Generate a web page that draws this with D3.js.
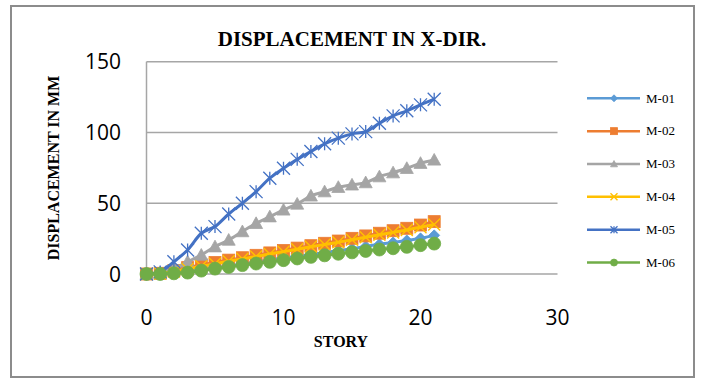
<!DOCTYPE html>
<html>
<head>
<meta charset="utf-8">
<script src="https://cdn.jsdelivr.net/npm/d3@7/dist/d3.min.js"></script>
<style>
  html, body { margin: 0; padding: 0; background: #fff; }
  svg { display: block; }
</style>
</head>
<body>
<svg id="chart" width="701" height="379"></svg>
<script>
// Storey-wise lateral displacement (mm) for six models
const stories = d3.range(0, 22);
const seriesNames = ["M-01", "M-02", "M-03", "M-04", "M-05", "M-06"];
const m01 = [0, 0, 0.8, 1.8, 3.1, 4.4, 5.8, 7.1, 8.5, 10, 11.3, 12.6, 13.9, 15.2, 16.5, 17.8, 19.5, 21, 22.3, 23.7, 25.2, 27.3];
const m02 = [0, 0.5, 2.5, 4.5, 6.4, 8.1, 9.8, 11.5, 13.2, 14.9, 16.6, 18.3, 20, 21.7, 23.3, 25.2, 26.9, 28.8, 30.6, 32.3, 34.6, 37];
const m03 = [0, 1, 4, 8.7, 13.4, 19.3, 24, 30, 35.8, 40.5, 45.3, 49.5, 55.2, 58.2, 61.3, 63, 64.6, 68.8, 71.6, 74.7, 78.3, 80.6];
const m04 = [0, 0.3, 1.8, 3.6, 5.5, 7.2, 9, 10.7, 12.4, 14.1, 15.8, 17.5, 19.2, 20.8, 22.4, 24.2, 25.9, 27.7, 29.4, 31.1, 33, 35];
const m05 = [0, 1.5, 8.7, 17, 28.8, 33.5, 42.4, 50, 58.2, 67.7, 74.7, 81, 86.5, 92, 96, 99, 100.6, 106.5, 111.7, 115.3, 119.5, 123.5];
const m06 = [0, 0, 0.5, 1, 2.4, 3.8, 5, 6.3, 7.4, 8.6, 9.8, 11, 12.1, 13.2, 14.3, 15.3, 16.3, 17.3, 18.2, 19.2, 20.4, 21.5];
const xTicks = [0, 10, 20, 30];
const yTicks = [0, 50, 100, 150];

const colors = ["#5B9BD5", "#ED7D31", "#A5A5A5", "#FFC000", "#4472C4", "#70AD47"];
const markers = ["diamond", "square", "triangle", "cross", "asterisk", "circle"];
const values = [m01, m02, m03, m04, m05, m06];

const svg = d3.select("#chart");
const serif = "'Liberation Serif', 'Times New Roman', serif";
const sans = "'Open Sans', 'Liberation Sans', sans-serif";

// chart frame
svg.append("rect")
  .attr("x", 11).attr("y", 6).attr("width", 683).attr("height", 371)
  .attr("fill", "#fff").attr("stroke", "#8c8c8c").attr("stroke-width", 2);

const x = d3.scaleLinear().domain([0, 30]).range([146.5, 557.5]);
const y = d3.scaleLinear().domain([0, 150]).range([274, 61.7]);

// horizontal gridlines
svg.append("g")
  .selectAll("line").data(yTicks).join("line")
  .attr("x1", x(0)).attr("x2", x(30))
  .attr("y1", d => y(d)).attr("y2", d => y(d))
  .attr("stroke", "#a6a6a6").attr("stroke-width", 1.5);

// vertical axis line
svg.append("line")
  .attr("x1", x(0)).attr("x2", x(0)).attr("y1", y(150)).attr("y2", y(0))
  .attr("stroke", "#a6a6a6").attr("stroke-width", 1.5);

// tick labels
svg.append("g")
  .selectAll("text").data(yTicks).join("text")
  .attr("x", 121).attr("y", d => y(d)).attr("dy", "0.36em")
  .attr("text-anchor", "end")
  .attr("font-family", sans).attr("font-size", 21).attr("fill", "#000")
  .text(d => d);

svg.append("g")
  .selectAll("text").data(xTicks).join("text")
  .attr("x", d => x(d)).attr("y", 324.5)
  .attr("text-anchor", "middle")
  .attr("font-family", sans).attr("font-size", 21).attr("fill", "#000")
  .text(d => d);

// titles
svg.append("text")
  .attr("x", 352).attr("y", 45.7).attr("text-anchor", "middle")
  .attr("font-family", serif).attr("font-weight", "bold").attr("font-size", 21)
  .text("DISPLACEMENT IN X-DIR.");

svg.append("text")
  .attr("x", 341).attr("y", 346.5).attr("text-anchor", "middle")
  .attr("font-family", serif).attr("font-weight", "bold").attr("font-size", 16)
  .text("STORY");

svg.append("text")
  .attr("transform", "translate(59,168) rotate(-90)")
  .attr("text-anchor", "middle")
  .attr("font-family", serif).attr("font-weight", "bold").attr("font-size", 16)
  .text("DISPLACEMENT IN MM");

// marker drawing helper
function drawMarker(g, type, cx, cy, s, color) {
  const h = s / 2;
  if (type === "diamond") {
    g.append("path").attr("d", `M${cx},${cy - h}L${cx + h},${cy}L${cx},${cy + h}L${cx - h},${cy}Z`)
      .attr("fill", color).attr("stroke", color).attr("stroke-width", 0.8);
  } else if (type === "square") {
    g.append("rect").attr("x", cx - h).attr("y", cy - h).attr("width", s).attr("height", s)
      .attr("fill", color).attr("stroke", color).attr("stroke-width", 0.8);
  } else if (type === "triangle") {
    g.append("path").attr("d", `M${cx},${cy - h}L${cx + h},${cy + h * 0.8}L${cx - h},${cy + h * 0.8}Z`)
      .attr("fill", color).attr("stroke", color).attr("stroke-width", 0.8);
  } else if (type === "cross") {
    g.append("path").attr("d", `M${cx - h},${cy - h}L${cx + h},${cy + h}M${cx + h},${cy - h}L${cx - h},${cy + h}`)
      .attr("fill", "none").attr("stroke", color).attr("stroke-width", 1.4);
  } else if (type === "asterisk") {
    g.append("path").attr("d", `M${cx - h},${cy - h}L${cx + h},${cy + h}M${cx + h},${cy - h}L${cx - h},${cy + h}M${cx},${cy - h}L${cx},${cy + h}`)
      .attr("fill", "none").attr("stroke", color).attr("stroke-width", 1.3);
  } else {
    g.append("circle").attr("cx", cx).attr("cy", cy).attr("r", h)
      .attr("fill", color).attr("stroke", color).attr("stroke-width", 0.8);
  }
}

const line = d3.line()
  .x((d, i) => x(stories[i]))
  .y(d => y(d))
  .curve(d3.curveCardinal);

const plotSizes = [11, 12, 13, 12, 13, 13];

// series, each drawn with its line then its markers
values.forEach((vals, k) => {
  const g = svg.append("g");
  g.append("path").datum(vals)
    .attr("d", line)
    .attr("fill", "none").attr("stroke", colors[k]).attr("stroke-width", 3)
    .attr("stroke-linejoin", "round");
  vals.forEach((v, i) => drawMarker(g, markers[k], x(stories[i]), y(v), plotSizes[k], colors[k]));
});

// legend
const legend = svg.append("g");
seriesNames.forEach((name, k) => {
  const ly = 98.3 + k * 32.85;
  legend.append("line")
    .attr("x1", 587).attr("x2", 640).attr("y1", ly).attr("y2", ly)
    .attr("stroke", colors[k]).attr("stroke-width", 2.5);
  drawMarker(legend, markers[k], 614, ly, 7, colors[k]);
  legend.append("text")
    .attr("x", 646).attr("y", ly).attr("dy", "0.33em")
    .attr("font-family", serif).attr("font-size", 13).attr("fill", "#000")
    .text(name);
});
</script>
</body>
</html>
